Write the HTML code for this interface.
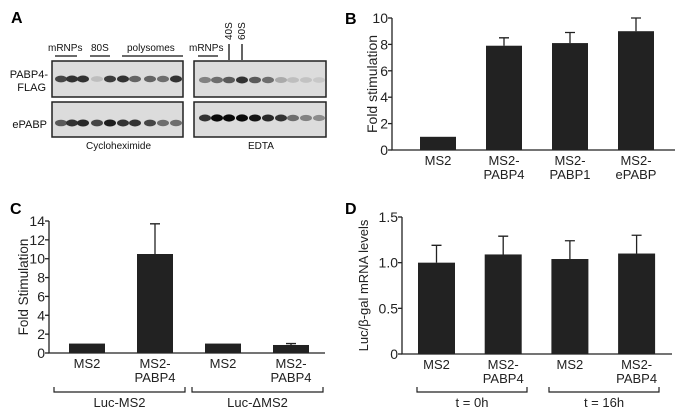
<!DOCTYPE html>
<html><head><meta charset="utf-8"><style>
body{margin:0;background:#fff}
svg{display:block;font-family:"Liberation Sans",Arial,sans-serif}
</style></head><body>
<svg id="fig" width="677" height="413" viewBox="0 0 677 413">
<g id="panelA">
<text x="11" y="23" font-size="16" font-weight="bold">A</text>
<g fill="#dcdcdc" stroke="#222" stroke-width="1.5">
<rect x="52" y="61" width="131" height="36"/>
<rect x="52" y="102" width="131" height="35"/>
<rect x="194" y="61" width="132" height="36"/>
<rect x="194" y="102" width="132" height="35"/>
</g>
<g font-size="10" fill="#111">
<text x="48" y="51">mRNPs</text>
<text x="91" y="51">80S</text>
<text x="127" y="51">polysomes</text>
<text x="189" y="51">mRNPs</text>
<text transform="translate(232,40) rotate(-90)">40S</text>
<text transform="translate(245,40) rotate(-90)">60S</text>
</g>
<g font-size="11" fill="#111" text-anchor="end">
<text x="48" y="78">PABP4-</text>
<text x="46" y="91">FLAG</text>
<text x="47" y="128">ePABP</text>
</g>
<g font-size="10" fill="#111">
<text x="86" y="149">Cycloheximide</text>
<text x="248" y="149">EDTA</text>
</g>
<g stroke="#111" stroke-width="1.3">
<line x1="55" y1="56" x2="77" y2="56"/><line x1="90" y1="56" x2="110" y2="56"/>
<line x1="122" y1="56" x2="183" y2="56"/><line x1="198" y1="56" x2="218" y2="56"/>
<line x1="229" y1="44" x2="229" y2="60"/><line x1="242" y1="44" x2="242" y2="60"/>
</g>
<g id="bands"></g>
</g>
<g id="charts"></g>
</svg>
<script>
// Panel A band data
const laneL=[61,72,83,97,110,123,135,150,163,176];
const laneR=[205,217,229,242,255,268,281,293,306,319];
const cycloTop=[0.7,0.8,0.8,0.1,0.75,0.8,0.55,0.55,0.5,0.8];
const cycloBot=[0.6,0.8,0.85,0.7,0.9,0.8,0.8,0.7,0.5,0.5];
const edtaTop=[0.4,0.5,0.6,0.8,0.6,0.5,0.2,0.1,0.08,0.05];
const edtaBot=[0.8,1,1,1,0.95,0.85,0.8,0.5,0.4,0.35];
// Panel B data
const catB=[["MS2"],["MS2-","PABP4"],["MS2-","PABP1"],["MS2-","ePABP"]];
const valB=[1,7.9,8.1,9.0];
const errB=[null,8.5,8.9,10.0];
const ticksB=[0,2,4,6,8,10];
// Panel C data
const catC=[["MS2"],["MS2-","PABP4"],["MS2"],["MS2-","PABP4"]];
const valC=[1,10.5,1,0.85];
const errC=[null,13.7,null,1.0];
const ticksC=[0,2,4,6,8,10,12,14];
const groupsC=["Luc-MS2","Luc-\u0394MS2"];
// Panel D data
const catD=[["MS2"],["MS2-","PABP4"],["MS2"],["MS2-","PABP4"]];
const valD=[1.0,1.09,1.04,1.1];
const errD=[1.19,1.29,1.24,1.3];
const ticksD=[0,0.5,1.0,1.5];
const tickLabD=["0","0.5","1.0","1.5"];
const groupsD=["t = 0h","t = 16h"];

const NS="http://www.w3.org/2000/svg";
function mk(tag,attrs,parent){const e=document.createElementNS(NS,tag);for(const k in attrs)e.setAttribute(k,attrs[k]);parent.appendChild(e);return e;}
const bands=document.getElementById('bands');
function drawBands(lanes,ints,y,name){
  lanes.forEach((x,i)=>{const g=Math.round(210-ints[i]*200);
    const e=mk('ellipse',{cx:x,cy:y,rx:6,ry:2.8+ints[i]*0.8,fill:`rgb(${g},${g},${g})`},bands);
    
    });
}
drawBands(laneL,cycloTop,79,'cyclo-pabp4');
drawBands(laneL,cycloBot,123,'cyclo-epabp');
drawBands(laneR,edtaTop,80,'edta-pabp4');
drawBands(laneR,edtaBot,118,'edta-epabp');

const charts=document.getElementById('charts');
function chart(o){
  const g=mk('g',{},charts);
  
  
  const max=o.ticks[o.ticks.length-1];
  const y=v=>o.y0-(v/max)*(o.y0-o.yTop);
  const x=i=>o.bx0+i*o.step;
  const lab=mk('text',{x:o.lx,y:o.ly,'font-size':16,'font-weight':'bold'},g);lab.textContent=o.label;
  
  
  const ax=mk('path',{d:`M${o.ax},${y(max)}V${o.y0}H${o.xEnd}`,stroke:'#222','stroke-width':1.3,fill:'none'},g);
  
  
  o.ticks.forEach((t,i)=>{
    mk('line',{x1:o.ax-4,x2:o.ax,y1:y(t),y2:y(t),stroke:'#222','stroke-width':1.3},g);
    const tl=mk('text',{x:o.ax-4,y:y(t)+5,'font-size':14,'text-anchor':'end',fill:'#222'},g);
    tl.textContent=o.tickLab?o.tickLab[i]:String(t);
    
    
  });
  const yt=mk('text',{transform:`translate(${o.ytx},${(o.y0+y(max))/2}) rotate(-90)`,'font-size':o.ytSize||14,'text-anchor':'middle',fill:'#222'},g);
  yt.textContent=o.ytitle;
  
  
  o.vals.forEach((v,i)=>{
    const r=mk('rect',{x:x(i),y:y(v),width:o.bw,height:o.y0-y(v),fill:'#222'},g);
    
    
    if(o.errs[i]!=null){
      const cx=x(i)+o.bw/2;
      const eb=mk('path',{d:`M${cx},${y(v)}V${y(o.errs[i])}M${cx-5},${y(o.errs[i])}H${cx+5}`,stroke:'#222','stroke-width':1.3,fill:'none'},g);
      
      
    }
    o.cats[i].forEach((s,j)=>{
      const t=mk('text',{x:x(i)+o.bw/2,y:o.y0+15+j*14,'font-size':13,'text-anchor':'middle',fill:'#222'},g);
      t.textContent=s;
      
      
    });
  });
  if(o.groups){
    o.groups.forEach((s,k)=>{
      const [a,b]=o.brk[k];
      const p=mk('path',{d:`M${a},387V392H${b}V387`,stroke:'#222','stroke-width':1.2,fill:'none'},g);
      
      
      const t=mk('text',{x:(a+b)/2,y:407,'font-size':13,'text-anchor':'middle',fill:'#222'},g);
      t.textContent=s;
      
      
    });
  }
}
chart({name:'panel-b-chart',label:'B',lx:345,ly:24,ax:392,y0:150,yTop:18,xEnd:675,bx0:420,step:66,bw:36,
  vals:valB,errs:errB,cats:catB,ticks:ticksB,ytitle:'Fold stimulation',ytx:377});
chart({name:'panel-c-chart',label:'C',lx:10,ly:214,ax:49,y0:353,yTop:221,xEnd:325,bx0:69,step:68,bw:36,
  vals:valC,errs:errC,cats:catC,ticks:ticksC,ytitle:'Fold Stimulation',ytx:28,ytSize:13.5,groups:groupsC,brk:[[54,185],[192,323]]});
chart({name:'panel-d-chart',label:'D',lx:345,ly:214,ax:402,y0:354,yTop:217,xEnd:672,bx0:418,step:66.7,bw:37,
  vals:valD,errs:errD,cats:catD,ticks:ticksD,tickLab:tickLabD,ytitle:'Luc/\u03b2-gal mRNA levels',ytx:368,ytSize:13,groups:groupsD,brk:[[417,527],[549,659]]});
</script>
</body></html>
